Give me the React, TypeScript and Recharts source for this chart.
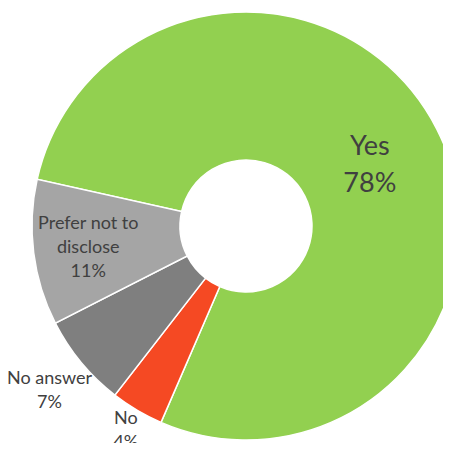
import { PieChart, Pie, Cell } from "recharts"

const categories = ["Yes", "No", "No answer", "Prefer not to disclose"]
const shares = [78, 4, 7, 11]
const sliceColors = ["#92D050", "#F54923", "#7F7F7F", "#A5A5A5"]

// label placement: distance from centre, and line breaks
const labelRadius: Record<string, number> = {
  Yes: 139,
  No: 236,
  "No answer": 255,
  "Prefer not to disclose": 159,
}
const labelLines: Record<string, string[]> = {
  Yes: ["Yes"],
  No: ["No"],
  "No answer": ["No answer"],
  "Prefer not to disclose": ["Prefer not to", "disclose"],
}

const data = categories.map((name, i) => ({ name, value: shares[i] }))
const RADIAN = Math.PI / 180

function renderLabel(props: any) {
  const { cx, cy, midAngle, name, percent } = props
  const r = labelRadius[name]
  const x = cx + r * Math.cos(-midAngle * RADIAN)
  const y = cy + r * Math.sin(-midAngle * RADIAN)
  const big = name === "Yes"
  const size = big ? 27 : 18
  const gap = big ? 37 : 24
  const lines = [...labelLines[name], `${Math.round(percent * 100)}%`]
  const top = y - ((lines.length - 1) * gap) / 2
  return (
    <text
      x={x}
      y={top}
      fill="#404040"
      fontSize={size}
      fontFamily="Lato, 'Open Sans', sans-serif"
      textAnchor="middle"
      dominantBaseline="central"
    >
      {lines.map((t, i) => (
        <tspan key={i} x={x} y={top + i * gap}>
          {t}
        </tspan>
      ))}
    </text>
  )
}

export default function App() {
  return (
    <div style={{ margin: -8, width: 451, height: 451, background: "#fff" }}>
      <PieChart width={451} height={451} margin={{ top: 0, right: 0, bottom: 0, left: 0 }}>
        <Pie
          data={data}
          dataKey="value"
          nameKey="name"
          cx={246}
          cy={226}
          innerRadius={66}
          outerRadius={214}
          startAngle={167.4}
          endAngle={-192.6}
          stroke="#fff"
          strokeWidth={1.5}
          label={renderLabel}
          labelLine={false}
          isAnimationActive={false}
        >
          {data.map((d, i) => (
            <Cell key={d.name} fill={sliceColors[i]} />
          ))}
        </Pie>
      </PieChart>
    </div>
  )
}
